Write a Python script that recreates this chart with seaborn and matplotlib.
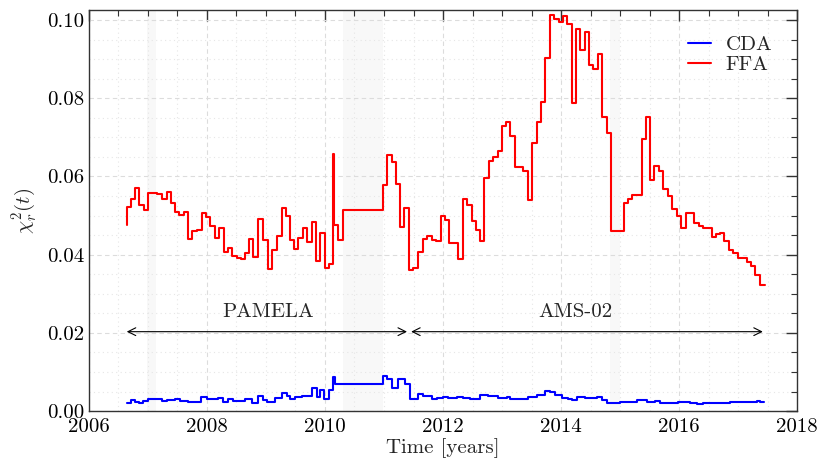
import numpy as np
import pandas as pd
import matplotlib
matplotlib.use("Agg")
import matplotlib.pyplot as plt
from matplotlib.ticker import MultipleLocator
import seaborn as sns

# ---------------- data ----------------
ffa_time = [2006.639, 2006.717, 2006.785, 2006.853, 2006.932, 2006.995, 2007.147, 2007.237,
            2007.317, 2007.385, 2007.458, 2007.531, 2007.610, 2007.683, 2007.751, 2007.836,
            2007.910, 2007.983, 2008.051, 2008.136, 2008.208, 2008.288, 2008.361, 2008.429,
            2008.503, 2008.571, 2008.649, 2008.717, 2008.775, 2008.869, 2008.954, 2009.029,
            2009.102, 2009.181, 2009.263, 2009.334, 2009.407, 2009.480, 2009.547, 2009.622,
            2009.700, 2009.775, 2009.847, 2009.915, 2010.000, 2010.068, 2010.131, 2010.153,
            2010.225, 2010.310, 2010.988, 2011.046, 2011.131, 2011.198, 2011.271, 2011.344,
            2011.424, 2011.497, 2011.581, 2011.656, 2011.734, 2011.808, 2011.881, 2011.961,
            2012.034, 2012.107, 2012.259, 2012.334, 2012.412, 2012.486, 2012.554, 2012.627,
            2012.700, 2012.780, 2012.853, 2012.927, 2013.000, 2013.068, 2013.141, 2013.215,
            2013.361, 2013.436, 2013.508, 2013.588, 2013.661, 2013.734, 2013.814, 2013.886,
            2013.961, 2014.034, 2014.107, 2014.181, 2014.254, 2014.327, 2014.402, 2014.475,
            2014.547, 2014.622, 2014.700, 2014.775, 2014.847, 2015.073, 2015.141, 2015.208,
            2015.368, 2015.436, 2015.508, 2015.581, 2015.661, 2015.734, 2015.808, 2015.886,
            2015.961, 2016.034, 2016.114, 2016.259, 2016.334, 2016.407, 2016.554, 2016.622,
            2016.695, 2016.768, 2016.847, 2016.920, 2016.995, 2017.147, 2017.220, 2017.293,
            2017.373, 2017.458]
ffa_chi2 = [0.0476, 0.0522, 0.0543, 0.0571, 0.0528, 0.0513, 0.0558, 0.0554,
            0.0541, 0.0561, 0.0531, 0.0509, 0.0501, 0.0509, 0.0441, 0.0460,
            0.0464, 0.0507, 0.0496, 0.0472, 0.0442, 0.0469, 0.0406, 0.0418,
            0.0396, 0.0391, 0.0388, 0.0405, 0.0439, 0.0393, 0.0490, 0.0437,
            0.0362, 0.0411, 0.0448, 0.0518, 0.0499, 0.0438, 0.0414, 0.0443,
            0.0469, 0.0433, 0.0483, 0.0384, 0.0455, 0.0365, 0.0377, 0.0658,
            0.0477, 0.0438, 0.0513, 0.0579, 0.0656, 0.0637, 0.0581, 0.0471,
            0.0518, 0.0361, 0.0367, 0.0407, 0.0439, 0.0448, 0.0438, 0.0435,
            0.0500, 0.0488, 0.0431, 0.0389, 0.0543, 0.0526, 0.0486, 0.0463,
            0.0435, 0.0595, 0.0640, 0.0649, 0.0666, 0.0730, 0.0739, 0.0704,
            0.0623, 0.0615, 0.0539, 0.0685, 0.0739, 0.0791, 0.0903, 0.1014,
            0.1003, 0.0996, 0.1009, 0.0991, 0.0789, 0.0978, 0.0923, 0.0969,
            0.0885, 0.0874, 0.0914, 0.0753, 0.0711, 0.0461, 0.0531, 0.0543,
            0.0552, 0.0695, 0.0753, 0.0590, 0.0626, 0.0613, 0.0569, 0.0551,
            0.0516, 0.0499, 0.0467, 0.0506, 0.0482, 0.0473, 0.0467, 0.0444,
            0.0454, 0.0456, 0.0435, 0.0412, 0.0405, 0.0391, 0.0382, 0.0370,
            0.0349, 0.0322]

cda_time = [2006.639, 2006.707, 2006.780, 2006.853, 2006.920, 2006.995, 2007.232, 2007.317,
            2007.458, 2007.542, 2007.683, 2007.898, 2007.995, 2008.192, 2008.276, 2008.361,
            2008.446, 2008.644, 2008.758, 2008.869, 2008.954, 2009.012, 2009.153, 2009.266,
            2009.351, 2009.407, 2009.492, 2009.605, 2009.775, 2009.859, 2009.915, 2009.983,
            2010.063, 2010.131, 2010.164, 2010.988, 2011.046, 2011.131, 2011.242, 2011.356,
            2011.441, 2011.581, 2011.666, 2011.808, 2011.893, 2012.005, 2012.090, 2012.232,
            2012.344, 2012.458, 2012.627, 2012.768, 2012.937, 2013.080, 2013.136, 2013.446,
            2013.588, 2013.729, 2013.814, 2013.898, 2014.012, 2014.124, 2014.181, 2014.266,
            2014.407, 2014.605, 2014.690, 2014.775, 2015.000, 2015.283, 2015.453, 2015.593,
            2015.678, 2015.988, 2016.186, 2016.300, 2016.412, 2016.864, 2016.978, 2017.317,
            2017.373, 2017.446]
cda_chi2 = [0.0020, 0.0020, 0.0028, 0.0024, 0.0020, 0.0026, 0.0032, 0.0025,
            0.0028, 0.0031, 0.0026, 0.0022, 0.0036, 0.0030, 0.0033, 0.0024,
            0.0030, 0.0026, 0.0030, 0.0021, 0.0038, 0.0028, 0.0024, 0.0034,
            0.0045, 0.0038, 0.0030, 0.0036, 0.0039, 0.0060, 0.0036, 0.0053,
            0.0032, 0.0055, 0.0087, 0.0069, 0.0089, 0.0083, 0.0060, 0.0083,
            0.0069, 0.0030, 0.0043, 0.0039, 0.0032, 0.0034, 0.0035, 0.0033,
            0.0036, 0.0033, 0.0032, 0.0042, 0.0039, 0.0033, 0.0036, 0.0032,
            0.0036, 0.0042, 0.0051, 0.0048, 0.0042, 0.0033, 0.0031, 0.0028,
            0.0036, 0.0033, 0.0036, 0.0029, 0.0020, 0.0022, 0.0028, 0.0022,
            0.0025, 0.0020, 0.0022, 0.0020, 0.0018, 0.0020, 0.0022, 0.0024,
            0.0026, 0.0023]

gap_start = [2006.98, 2010.31, 2014.83]
gap_end = [2007.13, 2010.99, 2015.00]

periods = ["PAMELA", "AMS-02"]
period_start = [2006.64, 2011.46]
period_end = [2011.39, 2017.42]
period_label_x = [2009.03, 2014.24]
arrow_y = 0.0203
label_y = 0.0254

# ---------------- style ----------------
sns.set_theme(style="white")
plt.rcParams["font.family"] = ["serif"]
plt.rcParams["font.serif"] = ["cmr10", "DejaVu Serif"]
plt.rcParams["mathtext.fontset"] = "cm"
plt.rcParams["axes.formatter.use_mathtext"] = True
plt.rcParams["axes.unicode_minus"] = False

fig = plt.figure(figsize=(8.2, 4.65), dpi=100)
ax = fig.add_axes([0.1085, 0.116, 0.8635, 0.862])

for s, e in zip(gap_start, gap_end):
    ax.axvspan(s, e, color="#f8f8f8", lw=0, zorder=0)

cda = pd.DataFrame({"time": cda_time, "chi2": cda_chi2})
ffa = pd.DataFrame({"time": ffa_time, "chi2": ffa_chi2})
sns.lineplot(data=cda, x="time", y="chi2", ax=ax, color="#0000ff", lw=1.5,
             drawstyle="steps-pre", estimator=None, sort=False, label="CDA", zorder=3)
sns.lineplot(data=ffa, x="time", y="chi2", ax=ax, color="#ff0000", lw=1.5,
             drawstyle="steps-pre", estimator=None, sort=False, label="FFA", zorder=3)

for name, s, e, lx in zip(periods, period_start, period_end, period_label_x):
    ax.annotate("", xy=(s, arrow_y), xytext=(e, arrow_y),
                arrowprops=dict(arrowstyle="<->", color="black", lw=0.8,
                                shrinkA=0, shrinkB=0, mutation_scale=14))
    ax.text(lx, label_y, name, ha="center", va="center", fontsize=15)

ax.set_xlim(2006, 2018)
ax.set_ylim(0, 0.1025)
ax.xaxis.set_major_locator(MultipleLocator(2))
ax.xaxis.set_minor_locator(MultipleLocator(0.5))
ax.yaxis.set_major_locator(MultipleLocator(0.02))
ax.yaxis.set_minor_locator(MultipleLocator(0.005))
ax.yaxis.set_major_formatter(matplotlib.ticker.FormatStrFormatter("%.2f"))
ax.xaxis.set_major_formatter(matplotlib.ticker.FormatStrFormatter("%d"))

ax.grid(which="major", ls=(0, (4, 3)), color="#dcdcdc", lw=0.8, zorder=1)
ax.grid(which="minor", ls=(0, (1, 3)), color="#e6e6e6", lw=0.8, zorder=1)
ax.set_axisbelow(True)

ax.tick_params(which="both", direction="in", top=True, right=True, colors="#333333",
               labelcolor="black", labelsize=15)
ax.tick_params(which="major", length=8, width=1.0)
ax.tick_params(which="minor", length=4, width=0.8)
ax.tick_params(axis="x", which="major", pad=5)
for sp in ax.spines.values():
    sp.set_color("#333333")
    sp.set_linewidth(1.0)

ax.set_xlabel("Time [years]", fontsize=15, labelpad=2)
ax.set_ylabel(r"$\chi_r^2(t)$", fontsize=15, labelpad=6)

leg = ax.legend(loc="upper right", frameon=False, fontsize=15, handlelength=1.1,
                handletextpad=0.7, borderaxespad=0.8, labelspacing=0.1)

fig.savefig("out.png", dpi=100)
